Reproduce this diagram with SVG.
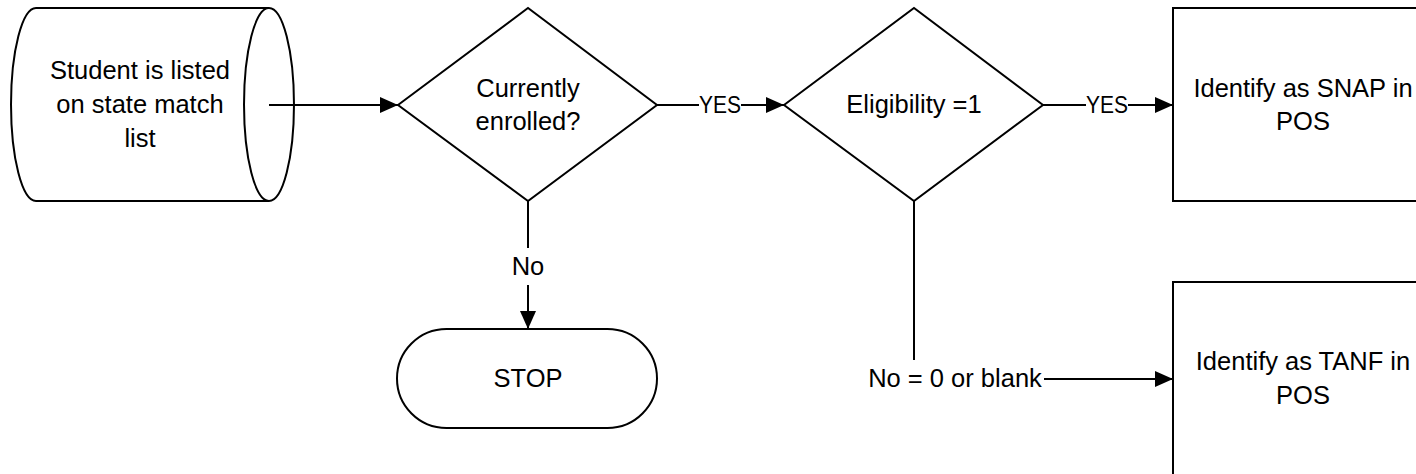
<svg xmlns="http://www.w3.org/2000/svg" width="1416" height="474" viewBox="0 0 1416 474">
<style>
.s{fill:#fff;stroke:#000;stroke-width:2}
.c{fill:none;stroke:#000;stroke-width:2}
text{font-family:"Liberation Sans",Arial,sans-serif;font-size:25.5px;fill:#000;text-anchor:middle}
text.lbl{font-size:23px}
</style>
<defs>
<marker id="ah" markerUnits="userSpaceOnUse" markerWidth="18" markerHeight="16" refX="18" refY="8" orient="auto">
<path d="M0,0 L18,8 L0,16 Z" fill="#000"/>
</marker>
</defs>
<rect width="1416" height="474" fill="#fff"/>
<g id="n-start">
<path class="s" d="M36,8 L269,8 A25,96.5 0 0,1 269,201 L36,201 A25,96.5 0 0,1 36,8 Z"/>
<path class="c" d="M269,8 A25,96.5 0 0,0 269,201"/>
<text x="140" y="79">Student is listed</text>
<text x="140" y="113">on state match</text>
<text x="140" y="147">list</text>
</g>
<g id="n-enrolled">
<path class="s" d="M398,105 L528,8 L657,105 L528,201 Z"/>
<text x="528" y="97">Currently</text>
<text x="528" y="130">enrolled?</text>
</g>
<g id="n-elig">
<path class="s" d="M784,105 L914,8 L1043,105 L914,201 Z"/>
<text x="914" y="113">Eligibility =1</text>
</g>
<g id="n-snap">
<rect class="s" x="1173" y="8" width="262" height="193"/>
<text x="1303" y="97">Identify as SNAP in</text>
<text x="1303" y="130">POS</text>
</g>
<g id="n-tanf">
<rect class="s" x="1173" y="282" width="262" height="196"/>
<text x="1303" y="370">Identify as TANF in</text>
<text x="1303" y="404">POS</text>
</g>
<g id="n-stop">
<rect class="s" x="397" y="329" width="260" height="99" rx="49.5" ry="49.5"/>
<text x="528" y="387">STOP</text>
</g>
<g id="connectors">
<path class="c" d="M269,105 L398,105" marker-end="url(#ah)"/>
<path class="c" d="M657,105 L699,105"/>
<text class="lbl" x="720" y="113" textLength="42" lengthAdjust="spacingAndGlyphs">YES</text>
<path class="c" d="M741,105 L784,105" marker-end="url(#ah)"/>
<path class="c" d="M1043,105 L1086,105"/>
<text class="lbl" x="1107" y="113" textLength="42" lengthAdjust="spacingAndGlyphs">YES</text>
<path class="c" d="M1128,105 L1173,105" marker-end="url(#ah)"/>
<path class="c" d="M528,201 L528,248"/>
<text x="528" y="275">No</text>
<path class="c" d="M528,285 L528,329" marker-end="url(#ah)"/>
<path class="c" d="M914,201 L914,360"/>
<text x="955" y="387">No = 0 or blank</text>
<path class="c" d="M1044,379 L1173,379" marker-end="url(#ah)"/>
</g>
</svg>
